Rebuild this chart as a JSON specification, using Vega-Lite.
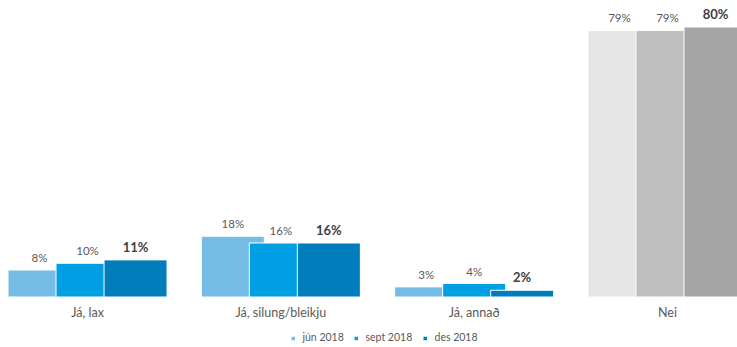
{
  "$schema": "https://vega.github.io/schema/vega-lite/v6.json",
  "autosize": {"type": "none"},
  "width": 737,
  "height": 297,
  "padding": {"left": 0, "top": 0, "right": 0, "bottom": 50},
  "background": "white",
  "config": {"view": {"stroke": null}, "font": "Lato"},
  "data": {
    "values": [
      {"cat": "Já, lax", "series": "jún 2018", "value": 0.08},
      {"cat": "Já, lax", "series": "sept 2018", "value": 0.10},
      {"cat": "Já, lax", "series": "des 2018", "value": 0.11},
      {"cat": "Já, silung/bleikju", "series": "jún 2018", "value": 0.18},
      {"cat": "Já, silung/bleikju", "series": "sept 2018", "value": 0.16},
      {"cat": "Já, silung/bleikju", "series": "des 2018", "value": 0.16},
      {"cat": "Já, annað", "series": "jún 2018", "value": 0.03},
      {"cat": "Já, annað", "series": "sept 2018", "value": 0.04},
      {"cat": "Já, annað", "series": "des 2018", "value": 0.02},
      {"cat": "Nei", "series": "jún 2018", "value": 0.79},
      {"cat": "Nei", "series": "sept 2018", "value": 0.79},
      {"cat": "Nei", "series": "des 2018", "value": 0.80}
    ]
  },
  "encoding": {
    "x": {
      "field": "cat",
      "type": "nominal",
      "sort": ["Já, lax", "Já, silung/bleikju", "Já, annað", "Nei"],
      "scale": {"range": [0, 755], "paddingInner": 0.255, "paddingOuter": 0.0802},
      "axis": {
        "title": null,
        "domain": false,
        "ticks": false,
        "labelAngle": 0,
        "labelPadding": 9,
        "labelFontSize": 12.5,
        "labelColor": "#595959",
        "labelFont": "Lato"
      }
    },
    "xOffset": {
      "field": "series",
      "type": "nominal",
      "sort": ["jún 2018", "sept 2018", "des 2018"]
    },
    "y": {
      "field": "value",
      "type": "quantitative",
      "scale": {"domain": [0, 0.88]},
      "axis": null
    }
  },
  "layer": [
    {
      "transform": [{"filter": "datum.cat !== 'Nei'"}],
      "mark": {"type": "bar", "width": 63, "stroke": "white", "strokeWidth": 1},
      "encoding": {
        "color": {
          "field": "series",
          "type": "nominal",
          "scale": {
            "domain": ["jún 2018", "sept 2018", "des 2018"],
            "range": ["#75BDE5", "#009FE3", "#007DBA"]
          },
          "legend": {
            "title": null,
            "orient": "none",
            "legendX": 288,
            "legendY": 333,
            "direction": "horizontal",
            "symbolType": "square",
            "symbolSize": 25,
            "labelFontSize": 10.5,
            "labelColor": "#595959",
            "labelFont": "Lato",
            "labelOffset": 4,
            "columnPadding": 6,
            "padding": 0
          }
        }
      }
    },
    {
      "transform": [{"filter": "datum.cat === 'Nei'"}],
      "mark": {"type": "bar", "width": 63, "stroke": "white", "strokeWidth": 1},
      "encoding": {
        "fill": {
          "field": "series",
          "type": "nominal",
          "scale": {
            "domain": ["jún 2018", "sept 2018", "des 2018"],
            "range": ["#E7E6E6", "#BFBFBF", "#A5A5A5"]
          },
          "legend": null
        }
      }
    },
    {
      "transform": [{"filter": "datum.series !== 'des 2018'"}],
      "mark": {"type": "text", "baseline": "alphabetic", "dy": -8, "fontSize": 11.5, "color": "#595959", "font": "Lato"},
      "encoding": {
        "text": {"field": "value", "type": "quantitative", "format": ".0%"}
      }
    },
    {
      "transform": [{"filter": "datum.series === 'des 2018'"}],
      "mark": {"type": "text", "baseline": "alphabetic", "dy": -8, "fontSize": 13, "fontWeight": "bold", "color": "#404040", "font": "Lato"},
      "encoding": {
        "text": {"field": "value", "type": "quantitative", "format": ".0%"}
      }
    }
  ]
}
